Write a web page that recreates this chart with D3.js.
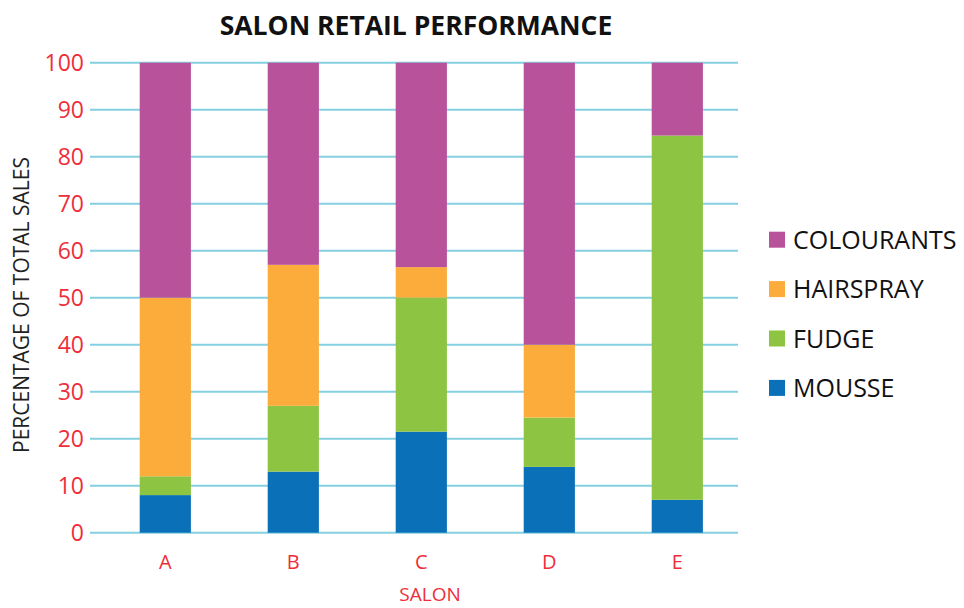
<!DOCTYPE html>
<html><head><meta charset="utf-8">
<script src="https://cdn.jsdelivr.net/npm/d3@7"></script>
<style>body{margin:0;background:#fff;} svg{display:block;}</style>
</head><body>
<svg id="chart" width="964" height="608"></svg>
<script>
const salons = ["A", "B", "C", "D", "E"];
const seriesNames = ["MOUSSE", "FUDGE", "HAIRSPRAY", "COLOURANTS"];
const mousse     = [8, 13, 21.5, 14, 7];
const fudge      = [4, 14, 28.5, 10.5, 77.5];
const hairspray  = [38, 30, 6.5, 15.5, 0];
const colourants = [50, 43, 43.5, 60, 15.5];
const yTicks = [0, 10, 20, 30, 40, 50, 60, 70, 80, 90, 100];
const colors = ["#0a71b8", "#8dc442", "#fbac3a", "#b8529a"];

const rows = salons.map((s, i) => ({salon: s, MOUSSE: mousse[i], FUDGE: fudge[i], HAIRSPRAY: hairspray[i], COLOURANTS: colourants[i]}));
const stacked = d3.stack().keys(seriesNames)(rows);

const svg = d3.select("#chart");
const font = "'Open Sans', sans-serif";
const red = "#ee2e3a";

const x = d3.scaleBand().domain(salons).range([101.3, 741.3]).paddingInner(0.6).paddingOuter(0.3);
const y = d3.scaleLinear().domain([0, 100]).range([532.7, 62.7]);
const color = d3.scaleOrdinal().domain(seriesNames).range(colors);

// grid
svg.append("g").selectAll("line").data(yTicks).join("line")
  .attr("x1", 90).attr("x2", 738)
  .attr("y1", d => y(d)).attr("y2", d => y(d))
  .attr("stroke", "#84d0e0").attr("stroke-width", 2);

// y axis labels
const yAxis = svg.append("g").attr("transform", "translate(84,0)")
  .call(d3.axisLeft(y).tickValues(yTicks).tickSize(0).tickPadding(0));
yAxis.select(".domain").remove();
yAxis.selectAll("text").attr("fill", red).attr("font-family", font).attr("font-size", 23).attr("dy", "0.35em");

// bars
svg.append("g").selectAll("g").data(stacked).join("g")
  .attr("fill", d => color(d.key))
  .selectAll("rect").data(d => d).join("rect")
  .attr("x", d => x(d.data.salon))
  .attr("width", x.bandwidth())
  .attr("y", d => y(d[1]))
  .attr("height", d => y(d[0]) - y(d[1]));

// x axis labels
const xAxis = svg.append("g").attr("transform", "translate(0,555)")
  .call(d3.axisBottom(x).tickSize(0).tickPadding(0));
xAxis.select(".domain").remove();
xAxis.selectAll("text").attr("fill", red).attr("font-family", font).attr("font-size", 20).attr("dy", "0.71em");

// title
svg.append("text").attr("x", 416).attr("y", 35).attr("text-anchor", "middle")
  .attr("font-family", font).attr("font-weight", 700).attr("font-size", 26.5).attr("fill", "#111")
  .text("SALON RETAIL PERFORMANCE");

// axis titles
svg.append("text").attr("x", 430).attr("y", 601).attr("text-anchor", "middle")
  .attr("font-family", font).attr("font-size", 19).attr("fill", red).text("SALON");
svg.append("text").attr("transform", "translate(29,305) rotate(-90)").attr("text-anchor", "middle")
  .attr("font-family", font).attr("font-size", 21).attr("fill", "#222").text("PERCENTAGE OF TOTAL SALES");

// legend
const legendOrder = seriesNames.slice().reverse();
const lg = svg.append("g").selectAll("g").data(legendOrder).join("g")
  .attr("transform", (d, i) => `translate(769,${231.7 + i * 49.4})`);
lg.append("rect").attr("width", 16).attr("height", 16).attr("fill", d => color(d));
lg.append("text").attr("x", 24).attr("y", 8).attr("dy", "0.36em")
  .attr("font-family", font).attr("font-size", 25).attr("fill", "#111").text(d => d);
</script>
</body></html>
